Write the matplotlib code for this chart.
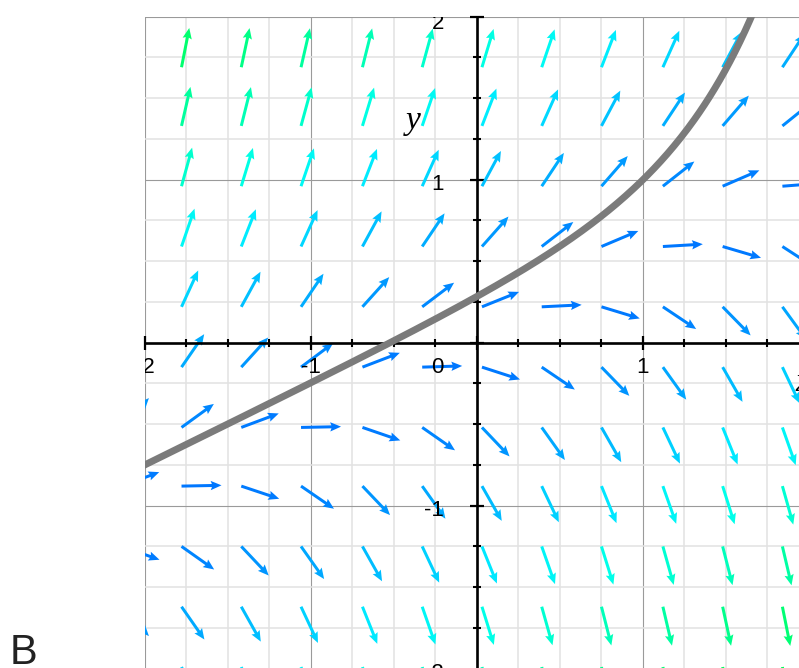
import numpy as np
import matplotlib
matplotlib.use("Agg")
import matplotlib.pyplot as plt
from matplotlib.colors import LinearSegmentedColormap, Normalize, hsv_to_rgb
from matplotlib.transforms import offset_copy

# ---- data ----
# slope field  dy/dx = 2y - x
def slope(x, y):
    return 2.0 * y - x

# sample points (arrow tails) of the direction field
field_x = [-2.14, -1.78, -1.42, -1.06, -0.69, -0.33, 0.03, 0.39, 0.75, 1.12, 1.48, 1.84]
field_y = [1.69, 1.33, 0.96, 0.59, 0.22, -0.15, -0.52, -0.88, -1.25, -1.62, -1.99]

# particular solution through this point
sol_x0, sol_y0 = 1.0, 1.0

x_tick_vals = [-2, -1, 1]
x_tick_text = ["-2", "-1", "1"]
y_tick_vals = [2, 1, -1, -2]
y_tick_text = ["2", "1", "-1", "-2"]

# ---- figure ----
W, H = 799, 668
fig = plt.figure(figsize=(W / 100, H / 100), dpi=100)
ax_left, ax_top = 145, 16.7
ax = fig.add_axes([ax_left / W, 0, (W - ax_left) / W, (H - ax_top) / H])

# grid
ax.set_axisbelow(True)
ax.set_xticks(np.arange(-2, 1.9, 1))
ax.set_yticks(np.arange(-2, 2.01, 1))
ax.set_xticks(np.arange(-2, 1.9, 0.25), minor=True)
ax.set_yticks(np.arange(-2, 2.01, 0.25), minor=True)
ax.set_xlim(-2, 1.94)
ax.set_ylim(-1.996, 2)
ax.grid(which="minor", color="#e2e2e2", lw=1.1)
ax.grid(which="major", color="#9a9a9a", lw=0.8)

# axes through origin
for s in ["top", "right"]:
    ax.spines[s].set_visible(False)
ax.spines["left"].set_position(("data", 0))
ax.spines["bottom"].set_position(("data", 0))
for s in ["left", "bottom"]:
    ax.spines[s].set_linewidth(1.9)
    ax.spines[s].set_color("black")
    ax.spines[s].set_zorder(3)
ax.tick_params(which="major", direction="inout", length=10, width=1.6,
               labelbottom=False, labelleft=False, color="black")
ax.tick_params(which="minor", direction="inout", length=5.5, width=1.5, color="black")

# direction field
X, Y = np.meshgrid(field_x, field_y)
F = slope(X, Y)
mag = np.sqrt(1 + F ** 2)
U = 1 / mag
V = F / mag
hues = np.linspace(212, 140, 9) / 360.0
cmap = LinearSegmentedColormap.from_list(
    "field", hsv_to_rgb(np.array([[h, 1.0, 1.0] for h in hues])))
norm = Normalize(1.0, 5.65)
ax.quiver(X, Y, U, V, mag, cmap=cmap, norm=norm, angles="xy",
          scale_units="dots", scale=1 / 40.0, units="dots", width=3.0,
          headwidth=3.1, headlength=3.6, headaxislength=3.2,
          pivot="tail", zorder=2)

# solution curve
xc = np.linspace(-2.05, 2.0, 400)
yc = xc / 2 + 0.25 + (sol_y0 - sol_x0 / 2 - 0.25) * np.exp(2 * (xc - sol_x0))
ax.plot(xc, yc, color="#7b7b7b", lw=5, solid_capstyle="butt", zorder=4)

# tick labels (clipped to the axes)
px = 0.72  # points per pixel
lab_font = dict(family=["Liberation Sans", "DejaVu Sans"], size=16, color="black",
                clip_on=True, zorder=5)
xt = offset_copy(ax.transData, fig=fig, x=0, y=-30 * px, units="points")
for v, t in zip(x_tick_vals, x_tick_text):
    ax.text(v, 0, t, transform=xt, ha="center", va="baseline", **lab_font)
for v, t in zip(y_tick_vals, y_tick_text):
    dy = -12.6 if v == 2 else -10
    yt = offset_copy(ax.transData, fig=fig, x=-33 * px, y=dy * px, units="points")
    ax.text(0, v, t, transform=yt, ha="right", va="baseline", **lab_font)
ot = offset_copy(ax.transData, fig=fig, x=-33 * px, y=-30 * px, units="points")
ax.text(0, 0, "0", transform=ot, ha="right", va="baseline", **lab_font)

# axis names
name_font = dict(family=["Liberation Serif", "DejaVu Serif"], style="italic",
                 size=24, color="black", clip_on=True, zorder=5)
ax.text(-0.385, 1.31, "y", ha="center", va="baseline", **name_font)
ax.text(1.918, -0.296, "x", ha="left", va="baseline", **name_font)

# panel letter
fig.text(10 / W, 4 / H, "B", ha="left", va="baseline", fontsize=30,
         color="#222222", family=["Liberation Sans", "DejaVu Sans"])

fig.savefig("out.png", dpi=100)
